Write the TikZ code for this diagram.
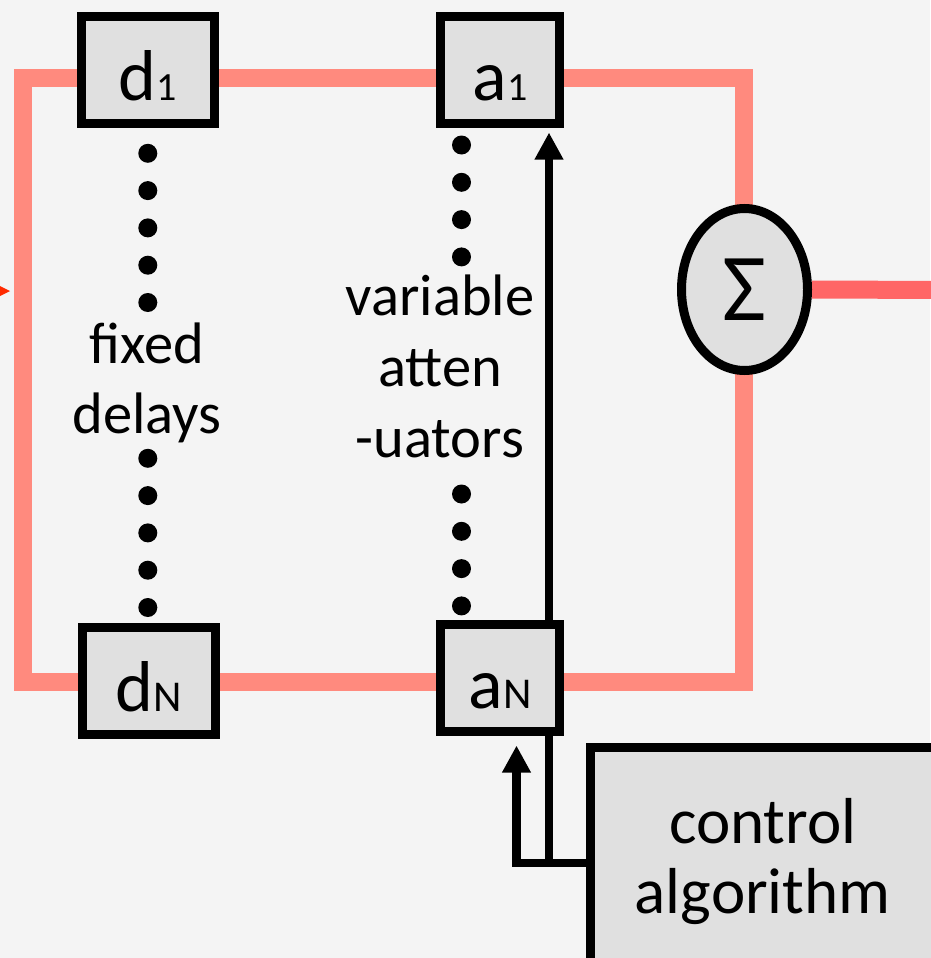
\documentclass[tikz,border=0pt]{standalone}
\usepackage{fontspec}
\setmainfont{Carlito}
\usetikzlibrary{shapes.geometric,arrows.meta}
\pgfdeclarelayer{bg}
\pgfdeclarelayer{background}
\pgfsetlayers{bg,background,main}
\definecolor{bgc}{HTML}{F4F4F4}
\definecolor{boxc}{HTML}{E0E0E0}
\definecolor{salmon}{HTML}{FF8A7E}
\definecolor{outc}{HTML}{FF6666}
\definecolor{inc}{HTML}{FF2A00}
\newcommand\subone[1]{{\fontsize{40}{40}\selectfont #1}}
\newcommand\subbig[1]{{\fontsize{44}{44}\selectfont #1}}
\begin{document}
\begin{tikzpicture}[x=1pt,y=-1pt,
  blk/.style={draw=black,line width=9pt,fill=boxc,inner sep=0pt,
    text height=61pt,text depth=0pt,font=\fontsize{72}{84}\selectfont},
  dbox/.style={blk,minimum width=133pt,minimum height=107pt},
  abox/.style={blk,minimum width=119pt,minimum height=107pt},
  sumnode/.style={ellipse,draw=black,line width=9pt,fill=boxc,inner sep=0pt,
    minimum width=126pt,minimum height=162pt,font=\fontsize{96}{100}\selectfont},
  ctrlbox/.style={draw=black,line width=9pt,fill=boxc,inner sep=0pt,align=center,
    font=\fontsize{65}{70}\selectfont},
  lbl/.style={inner sep=0pt,align=center},
  sigline/.style={draw=salmon,line width=18pt,line join=miter},
  outline/.style={draw=outc,line width=18pt},
  ctl/.style={draw=black,line width=8.5pt,line join=miter},
  tip/.style={-{Triangle[length=27pt,width=27pt]}},
  dot/.style={fill=black}]
\useasboundingbox (0,0) rectangle (930,958);
\begin{pgfonlayer}{bg}
  \fill[bgc] (0,0) rectangle (930,958);
\end{pgfonlayer}

% blocks
\node[dbox] (d1) at (148,70) {d\subone{1}};
\node[abox] (a1) at (500,70) {a\subone{1}};
\node[dbox] (dN) at (148.5,680.5) {d\subbig{N}};
\node[abox] (aN) at (500,678) {a\subbig{N}};
\node[sumnode] (sum) at (744.5,289.5) {Σ};
\node[ctrlbox,minimum width=344.5pt,minimum height=227.5pt] (ctrl) at (762.75,861.25) {control\\algorithm};

% texts
\node[lbl,font=\fontsize{58.5}{70}\selectfont] (fd) at (147,382.75) {fixed\\delays};
\node[lbl,font=\fontsize{58.5}{71}\selectfont] (va) at (440,366) {variable\\atten\\-uators};

% dots
\foreach \y in {153.3,190.6,227.9,265.2,302.5,458.3,495.6,532.9,570.2,607.5}
  \fill[dot] (147.8,\y) circle[radius=9.5pt];
\foreach \y in {145,182.3,219.6,256.9,494,531.3,568.6,605.9}
  \fill[dot] (461.5,\y) circle[radius=9.5pt];

% incoming arrow head at left edge
\fill[inc] (-10,281) -- (10,291) -- (-10,301) -- cycle;

\coordinate (tl) at (23,78);
\coordinate (tr) at (744,78);
\coordinate (br) at (744,682);
\coordinate (bl) at (23,682);
\coordinate (outR) at (945,290);
\coordinate (jr) at (549,863);
\coordinate (jl) at (516.5,863);

\begin{pgfonlayer}{background}
  \draw[sigline] (tl) -- (tr) -- (br) -- (bl) -- cycle;
  \draw[outline] (sum.east) -- (outR);
  \draw[ctl,tip,shorten >=4.5pt] (jr) -- (jr |- a1.south);
  \draw[ctl,tip,shorten >=9.5pt] (ctrl.west |- jr) -- (jl) -- (jl |- aN.south);
\end{pgfonlayer}
\end{tikzpicture}
\end{document}
